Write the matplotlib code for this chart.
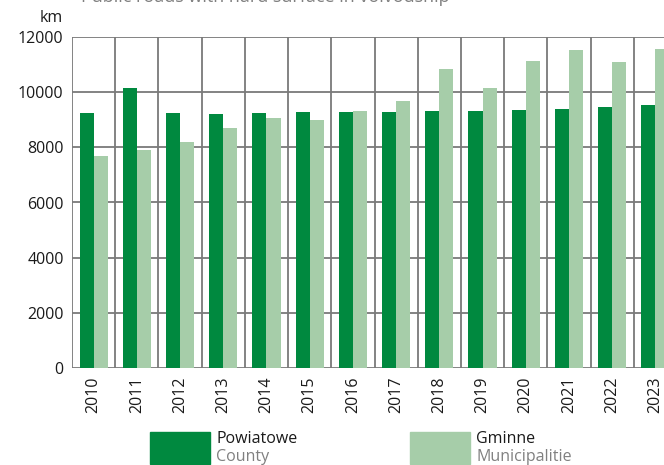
import numpy as np
import matplotlib.pyplot as plt

years = ['2010', '2011', '2012', '2013', '2014', '2015', '2016',
         '2017', '2018', '2019', '2020', '2021', '2022', '2023']
county = [9240, 10150, 9240, 9210, 9240, 9280, 9280,
          9280, 9310, 9310, 9350, 9390, 9460, 9530]
municip = [7690, 7900, 8190, 8700, 9060, 8990, 9310,
           9680, 10830, 10150, 11120, 11520, 11080, 11550]
yticks = [0, 2000, 4000, 6000, 8000, 10000, 12000]

dark = '#00893f'
light = '#a6cda9'
grid_col = '#7a7a7a'

plt.rcParams['font.family'] = ['Open Sans', 'DejaVu Sans']

fig = plt.figure(figsize=(6.64, 4.65), dpi=100)
# the plot area runs past the right edge of the picture, as in the original
ax = fig.add_axes([72 / 664, 97 / 465, 605 / 664, 331 / 465])

x = np.arange(len(years))
w = 0.325
ax.bar(x - w / 2, county, w, color=dark, zorder=3)
ax.bar(x + w / 2, municip, w, color=light, zorder=3)

ax.set_xlim(-0.5, len(years) - 0.5)
ax.set_ylim(0, 12000)
ax.set_yticks(yticks)
ax.set_yticklabels([str(v) for v in yticks], fontsize=11.5, color='#1a1a1a')
ax.set_xticks(x)
ax.set_xticklabels(years, rotation=90, fontsize=11.5, color='#1a1a1a')
ax.tick_params(length=0, pad=6)

# grid: horizontal at ticks, vertical between years
for v in yticks:
    ax.axhline(v, color=grid_col, lw=1.3, zorder=1)
for b in np.arange(-0.5, len(years), 1.0):
    ax.axvline(b, color=grid_col, lw=1.3, zorder=1)
for s in ax.spines.values():
    s.set_visible(False)

fig.text(63 / 664, 1 - 18 / 465, 'km', ha='right', va='center', fontsize=11.5, color='#1a1a1a')
# title is cut by the top edge in the original, only its lower part shows
fig.text(265 / 664, 1 - 2 / 465, 'Public roads with hard surface in voivodship',
         ha='center', va='baseline', fontsize=13, color='#808080')

# legend
fig.patches.append(plt.Rectangle((150 / 664, 1 - 464 / 465), 60 / 664, 32 / 465,
                                 transform=fig.transFigure, color=dark))
fig.patches.append(plt.Rectangle((410 / 664, 1 - 464 / 465), 60 / 664, 32 / 465,
                                 transform=fig.transFigure, color=light))
fig.text(216 / 664, 1 - 439 / 465, 'Powiatowe', va='center', fontsize=11.5, color='#1a1a1a')
fig.text(216 / 664, 1 - 457 / 465, 'County', va='center', fontsize=11.5, color='#808080')
fig.text(476 / 664, 1 - 439 / 465, 'Gminne', va='center', fontsize=11.5, color='#1a1a1a')
fig.text(476 / 664, 1 - 457 / 465, 'Municipalitie', va='center', fontsize=11.5, color='#808080')

fig.savefig('out.png', dpi=100)
